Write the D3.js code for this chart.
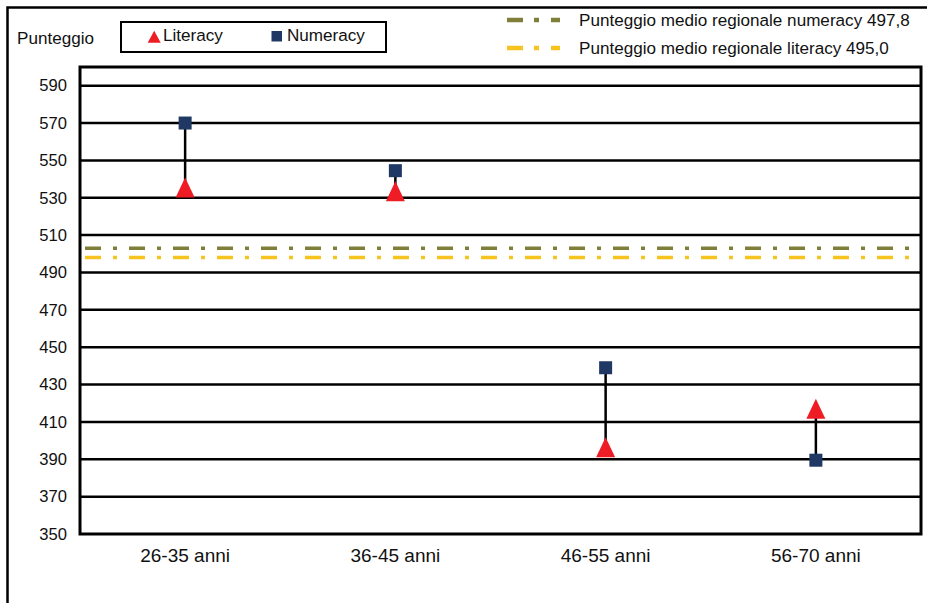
<!DOCTYPE html>
<html><head><meta charset="utf-8">
<script src="https://cdn.jsdelivr.net/npm/d3@7"></script>
<style>body{margin:0;background:#fff}svg{display:block;font-family:"Liberation Sans",Arial,sans-serif}</style>
</head><body><svg id="c" width="929" height="603"></svg>
<script>
const categories = ["26-35 anni","36-45 anni","46-55 anni","56-70 anni"];
const literacy = [535.5, 533.5, 396.5, 417];
const numeracy = [570, 544.5, 439, 389.5];
const yTicks = [350,370,390,410,430,450,470,490,510,530,550,570,590];
const avgLabels = ["Punteggio medio regionale numeracy 497,8","Punteggio medio regionale literacy 495,0"];
const avgLinePositions = [503, 498]; // as drawn in the reference
const avgColors = ["#7f7f3a","#f7c41f"];

const svg = d3.select("#c");
const m = {l:80, t:67, r:921, b:534};
const x = d3.scaleBand().domain(categories).range([m.l, m.r]).padding(0);
const y = d3.scaleLinear().domain([350, 600]).range([m.b, m.t]);

svg.append("path").attr("d","M7.5,640V7.5H927").attr("fill","none").attr("stroke","#000").attr("stroke-width",2.5);

svg.append("g").selectAll("line").data(yTicks.filter(d=>d>350)).join("line")
  .attr("x1",m.l).attr("x2",m.r).attr("y1",d=>y(d)).attr("y2",d=>y(d))
  .attr("stroke","#000").attr("stroke-width",2.5);

const ya = svg.append("g").attr("transform",`translate(${m.l},0)`)
  .call(d3.axisLeft(y).tickValues(yTicks).tickSize(0).tickPadding(13));
ya.select(".domain").remove();
ya.selectAll("text").style("font-size","16.6px").style("font-family","Liberation Sans, Arial, sans-serif").attr("fill","#111");

const xa = svg.append("g").attr("transform",`translate(0,${m.b})`)
  .call(d3.axisBottom(x).tickSize(0).tickPadding(15));
xa.select(".domain").remove();
xa.selectAll("text").style("font-size","19px").style("font-family","Liberation Sans, Arial, sans-serif").attr("fill","#111");

svg.append("g").selectAll("line").data(avgLinePositions).join("line")
  .attr("x1",m.l+5).attr("x2",m.r).attr("y1",d=>y(d)).attr("y2",d=>y(d))
  .attr("stroke",(d,i)=>avgColors[i]).attr("stroke-width",3.5)
  .attr("stroke-dasharray","16,12,4,12");

svg.append("rect").attr("x",m.l).attr("y",m.t).attr("width",m.r-m.l).attr("height",m.b-m.t)
  .attr("fill","none").attr("stroke","#000").attr("stroke-width",3);

svg.append("g").selectAll("line").data(categories).join("line")
  .attr("x1",d=>x(d)+x.bandwidth()/2).attr("x2",d=>x(d)+x.bandwidth()/2)
  .attr("y1",(d,i)=>y(numeracy[i])).attr("y2",(d,i)=>y(literacy[i]))
  .attr("stroke","#000").attr("stroke-width",2.5);

const tri = (cx,cy,w,h)=>`M${cx},${cy-h/2}L${cx+w/2},${cy+h/2}L${cx-w/2},${cy+h/2}Z`;
svg.append("g").selectAll("path").data(categories).join("path")
  .attr("d",(d,i)=>tri(x(d)+x.bandwidth()/2, y(literacy[i]), 19, 20))
  .attr("fill","#ee1c25");
svg.append("g").selectAll("rect").data(categories).join("rect")
  .attr("x",d=>x(d)+x.bandwidth()/2-6.5).attr("y",(d,i)=>y(numeracy[i])-6.5)
  .attr("width",13).attr("height",13).attr("fill","#1f3864");

const fs = "17.1px";
svg.append("text").attr("x",17).attr("y",44).style("font-size",fs).attr("fill","#111").text("Punteggio");

svg.append("rect").attr("x",121).attr("y",22).attr("width",265).attr("height",30)
  .attr("fill","none").attr("stroke","#000").attr("stroke-width",2);
svg.append("path").attr("d",tri(154.2,36.7,13,12)).attr("fill","#ee1c25");
svg.append("text").attr("x",163).attr("y",41).style("font-size",fs).attr("fill","#111").text("Literacy");
svg.append("rect").attr("x",271.5).attr("y",31).attr("width",10.5).attr("height",10.5).attr("fill","#1f3864");
svg.append("text").attr("x",287).attr("y",41).style("font-size",fs).attr("fill","#111").text("Numeracy");

const lg = svg.append("g");
avgLabels.forEach((t,i)=>{
  const yy = 20 + i*28;
  lg.append("line").attr("x1",507).attr("x2",560).attr("y1",yy).attr("y2",yy)
    .attr("stroke",avgColors[i]).attr("stroke-width",4.5).attr("stroke-dasharray","16,11,5,12");
  lg.append("text").attr("x",579).attr("y",yy+5.5).style("font-size","17.1px").attr("fill","#111").text(t);
});
</script></body></html>
